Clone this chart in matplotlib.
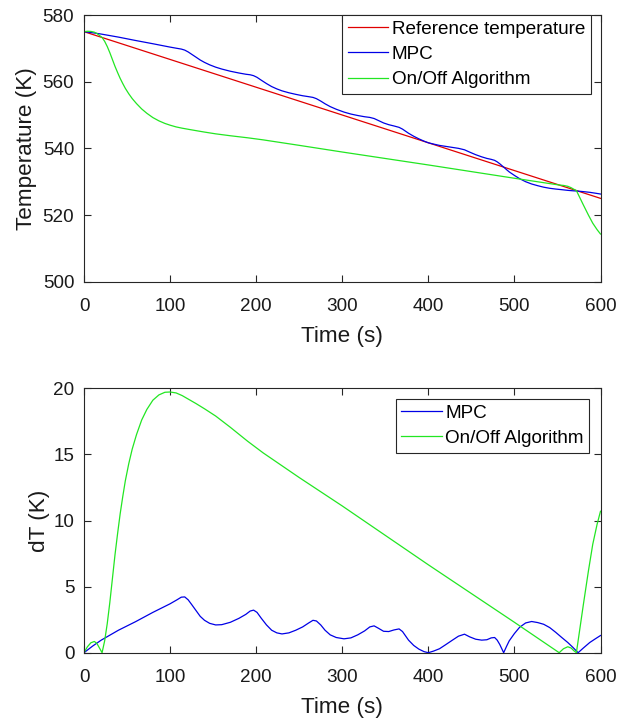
import matplotlib
matplotlib.use("Agg")
import matplotlib.pyplot as plt

plt.rcParams['font.family'] = ['Liberation Sans', 'DejaVu Sans']

# ---------------- data ----------------
ref_t = [0, 600]
ref_T = [575, 525]

mpc_t = [0, 10, 20, 40, 60, 80, 100, 108, 113, 117, 121, 125, 130, 135, 140, 146, 153,
         160, 170, 180, 188, 193, 197, 201, 206, 212, 218, 224, 230, 238, 246, 254, 261,
         266, 270, 275, 280, 286, 293, 302, 310, 318, 326, 332, 337, 342, 348, 354, 360,
         366, 370, 377, 383, 389, 395, 400, 406, 413, 420, 428, 435, 442, 448, 455, 462,
         468, 473, 477, 480, 483, 487.5, 491, 494, 500, 506, 513, 520, 527, 534, 541, 548,
         555, 562, 568, 574, 580, 587.5, 594, 600]
mpc_T = [575.0, 574.67, 574.28, 573.37, 572.35, 571.38, 570.37, 570.0, 569.78, 569.47,
         568.92, 568.23, 567.37, 566.5, 565.78, 565.05, 564.35, 563.79, 563.13, 562.6,
         562.23, 562.07, 561.8, 561.3, 560.43, 559.43, 558.53, 557.83, 557.25, 556.67,
         556.2, 555.78, 555.5, 555.28, 554.9, 554.18, 553.37, 552.52, 551.73, 550.88,
         550.29, 549.85, 549.48, 549.28, 548.95, 548.35, 547.62, 547.1, 546.72, 546.3,
         545.77, 544.53, 543.63, 542.85, 542.16, 541.67, 541.29, 540.88, 540.6, 540.28,
         540.0, 539.57, 538.87, 538.1, 537.45, 536.98, 536.7, 536.4, 535.95, 535.37,
         534.375, 533.58, 532.93, 531.88, 530.91, 530.0, 529.31, 528.8, 528.35, 528.02,
         527.79, 527.6, 527.4, 527.27, 527.167, 527.02, 526.81, 526.55, 526.3]
mpc_dT = [0, 0.5, 0.95, 1.7, 2.35, 3.05, 3.7, 4.0, 4.2, 4.22, 4.0, 3.65, 3.2, 2.75, 2.45,
          2.22, 2.1, 2.12, 2.3, 2.6, 2.9, 3.15, 3.22, 3.05, 2.6, 2.1, 1.7, 1.5, 1.42, 1.5,
          1.7, 1.95, 2.25, 2.45, 2.4, 2.1, 1.7, 1.35, 1.15, 1.05, 1.12, 1.35, 1.65, 1.95,
          2.03, 1.85, 1.62, 1.6, 1.72, 1.8, 1.6, 0.95, 0.55, 0.27, 0.08, 0.0, 0.12, 0.3,
          0.6, 0.95, 1.25, 1.4, 1.2, 1.02, 0.95, 0.98, 1.12, 1.15, 0.95, 0.62, 0.0, 0.5,
          0.9, 1.45, 1.92, 2.25, 2.36, 2.28, 2.15, 1.9, 1.54, 1.15, 0.77, 0.4, 0.0, 0.35,
          0.77, 1.05, 1.3]

onoff_t = [0, 4, 8, 12, 15, 18, 21, 24, 27, 30, 33, 36, 39, 42, 45, 48, 52, 56, 61, 67,
           73, 80, 87, 94, 100, 107, 114, 122, 130, 140, 153, 170, 190, 208, 250, 300, 400,
           500, 552, 557, 562, 566, 569, 572, 576, 580, 586, 591, 596, 600]
onoff_T = [575.0, 575.12, 575.08, 574.85, 574.45, 573.85, 573.25, 572.1, 570.55, 568.7,
           566.65, 564.6, 562.75, 561.0, 559.45, 558.0, 556.37, 554.93, 553.42, 551.82,
           550.52, 549.23, 548.25, 547.47, 546.95, 546.43, 546.05, 545.68, 545.32, 544.88,
           544.35, 543.78, 543.17, 542.55, 540.9, 538.9, 535.02, 531.03, 529.0, 528.88,
           528.62, 528.18, 527.73, 527.333, 525.2, 523.07, 519.97, 517.55, 515.63, 514.3]
onoff_dT = [0, 0.45, 0.75, 0.85, 0.7, 0.35, 0.0, 0.9, 2.2, 3.8, 5.6, 7.4, 9.0, 10.5, 11.8,
            13.0, 14.3, 15.4, 16.5, 17.6, 18.4, 19.1, 19.5, 19.7, 19.72, 19.65, 19.45,
            19.15, 18.85, 18.45, 17.9, 17.05, 16.0, 15.12, 13.25, 11.1, 6.65, 2.3, 0.0,
            0.3, 0.45, 0.35, 0.15, 0.0, 1.8, 3.6, 6.2, 8.2, 9.7, 10.7]

x_ticks = [0, 100, 200, 300, 400, 500, 600]
T_ticks = [500, 520, 540, 560, 580]
dT_ticks = [0, 5, 10, 15, 20]

# ---------------- style ----------------
RED = '#e00000'
BLUE = '#0000e6'
GREEN = '#22e622'
AX = '#262626'
TXT = '#1a1a1a'
LW = 0.9
TICK_FS = 13.6
LABEL_FS = 16.2

fig = plt.figure(figsize=(6.21, 7.24), dpi=100)
W, H = 621, 724


def make_ax(left, top, right, bottom):
    return fig.add_axes([left / W, 1 - bottom / H, (right - left) / W, (bottom - top) / H])


ax1 = make_ax(84, 15, 600.5, 281.7)
ax2 = make_ax(84, 388.3, 600.5, 652.7)

for ax in (ax1, ax2):
    for s in ax.spines.values():
        s.set_color(AX)
        s.set_linewidth(0.8)
    ax.tick_params(direction='in', length=5, width=0.8, colors=AX, labelcolor=TXT,
                   labelsize=TICK_FS, top=True, right=True)
    ax.tick_params(axis='x', pad=11.8)
    ax.tick_params(axis='y', pad=7)
    ax.set_xlim(0, 600)
    ax.set_xticks(x_ticks)
    ax.set_xlabel('Time (s)', fontsize=LABEL_FS, color=TXT, labelpad=7.8)

ax1.plot(ref_t, ref_T, color=RED, lw=LW, label='Reference temperature')
ax1.plot(mpc_t, mpc_T, color=BLUE, lw=LW, label='MPC')
ax1.plot(onoff_t, onoff_T, color=GREEN, lw=LW, label='On/Off Algorithm')
ax1.set_ylim(500, 580)
ax1.set_yticks(T_ticks)
ax1.set_ylabel('Temperature (K)', fontsize=LABEL_FS, color=TXT, labelpad=4)

ax2.plot(mpc_t, mpc_dT, color=BLUE, lw=LW, label='MPC')
ax2.plot(onoff_t, onoff_dT, color=GREEN, lw=LW, label='On/Off Algorithm')
ax2.set_ylim(0, 20)
ax2.set_yticks(dT_ticks)
ax2.set_ylabel('dT (K)', fontsize=LABEL_FS, color=TXT, labelpad=2)


def legend(ax, x_right, y_top):
    lg = ax.legend(loc='upper right', bbox_to_anchor=(x_right, y_top), fontsize=TICK_FS,
                   frameon=True, fancybox=False, framealpha=1, edgecolor=AX,
                   handlelength=2.13, handletextpad=0.19, borderpad=0.3, labelspacing=0.42,
                   borderaxespad=0)
    lg.get_frame().set_linewidth(0.8)
    return lg


legend(ax1, (591 - 84) / 516.5, 1.0)
legend(ax2, (589.3 - 84) / 516.5, 1 - (399 - 388.3) / 264.4)

fig.savefig('out.png', dpi=100, facecolor='white')
